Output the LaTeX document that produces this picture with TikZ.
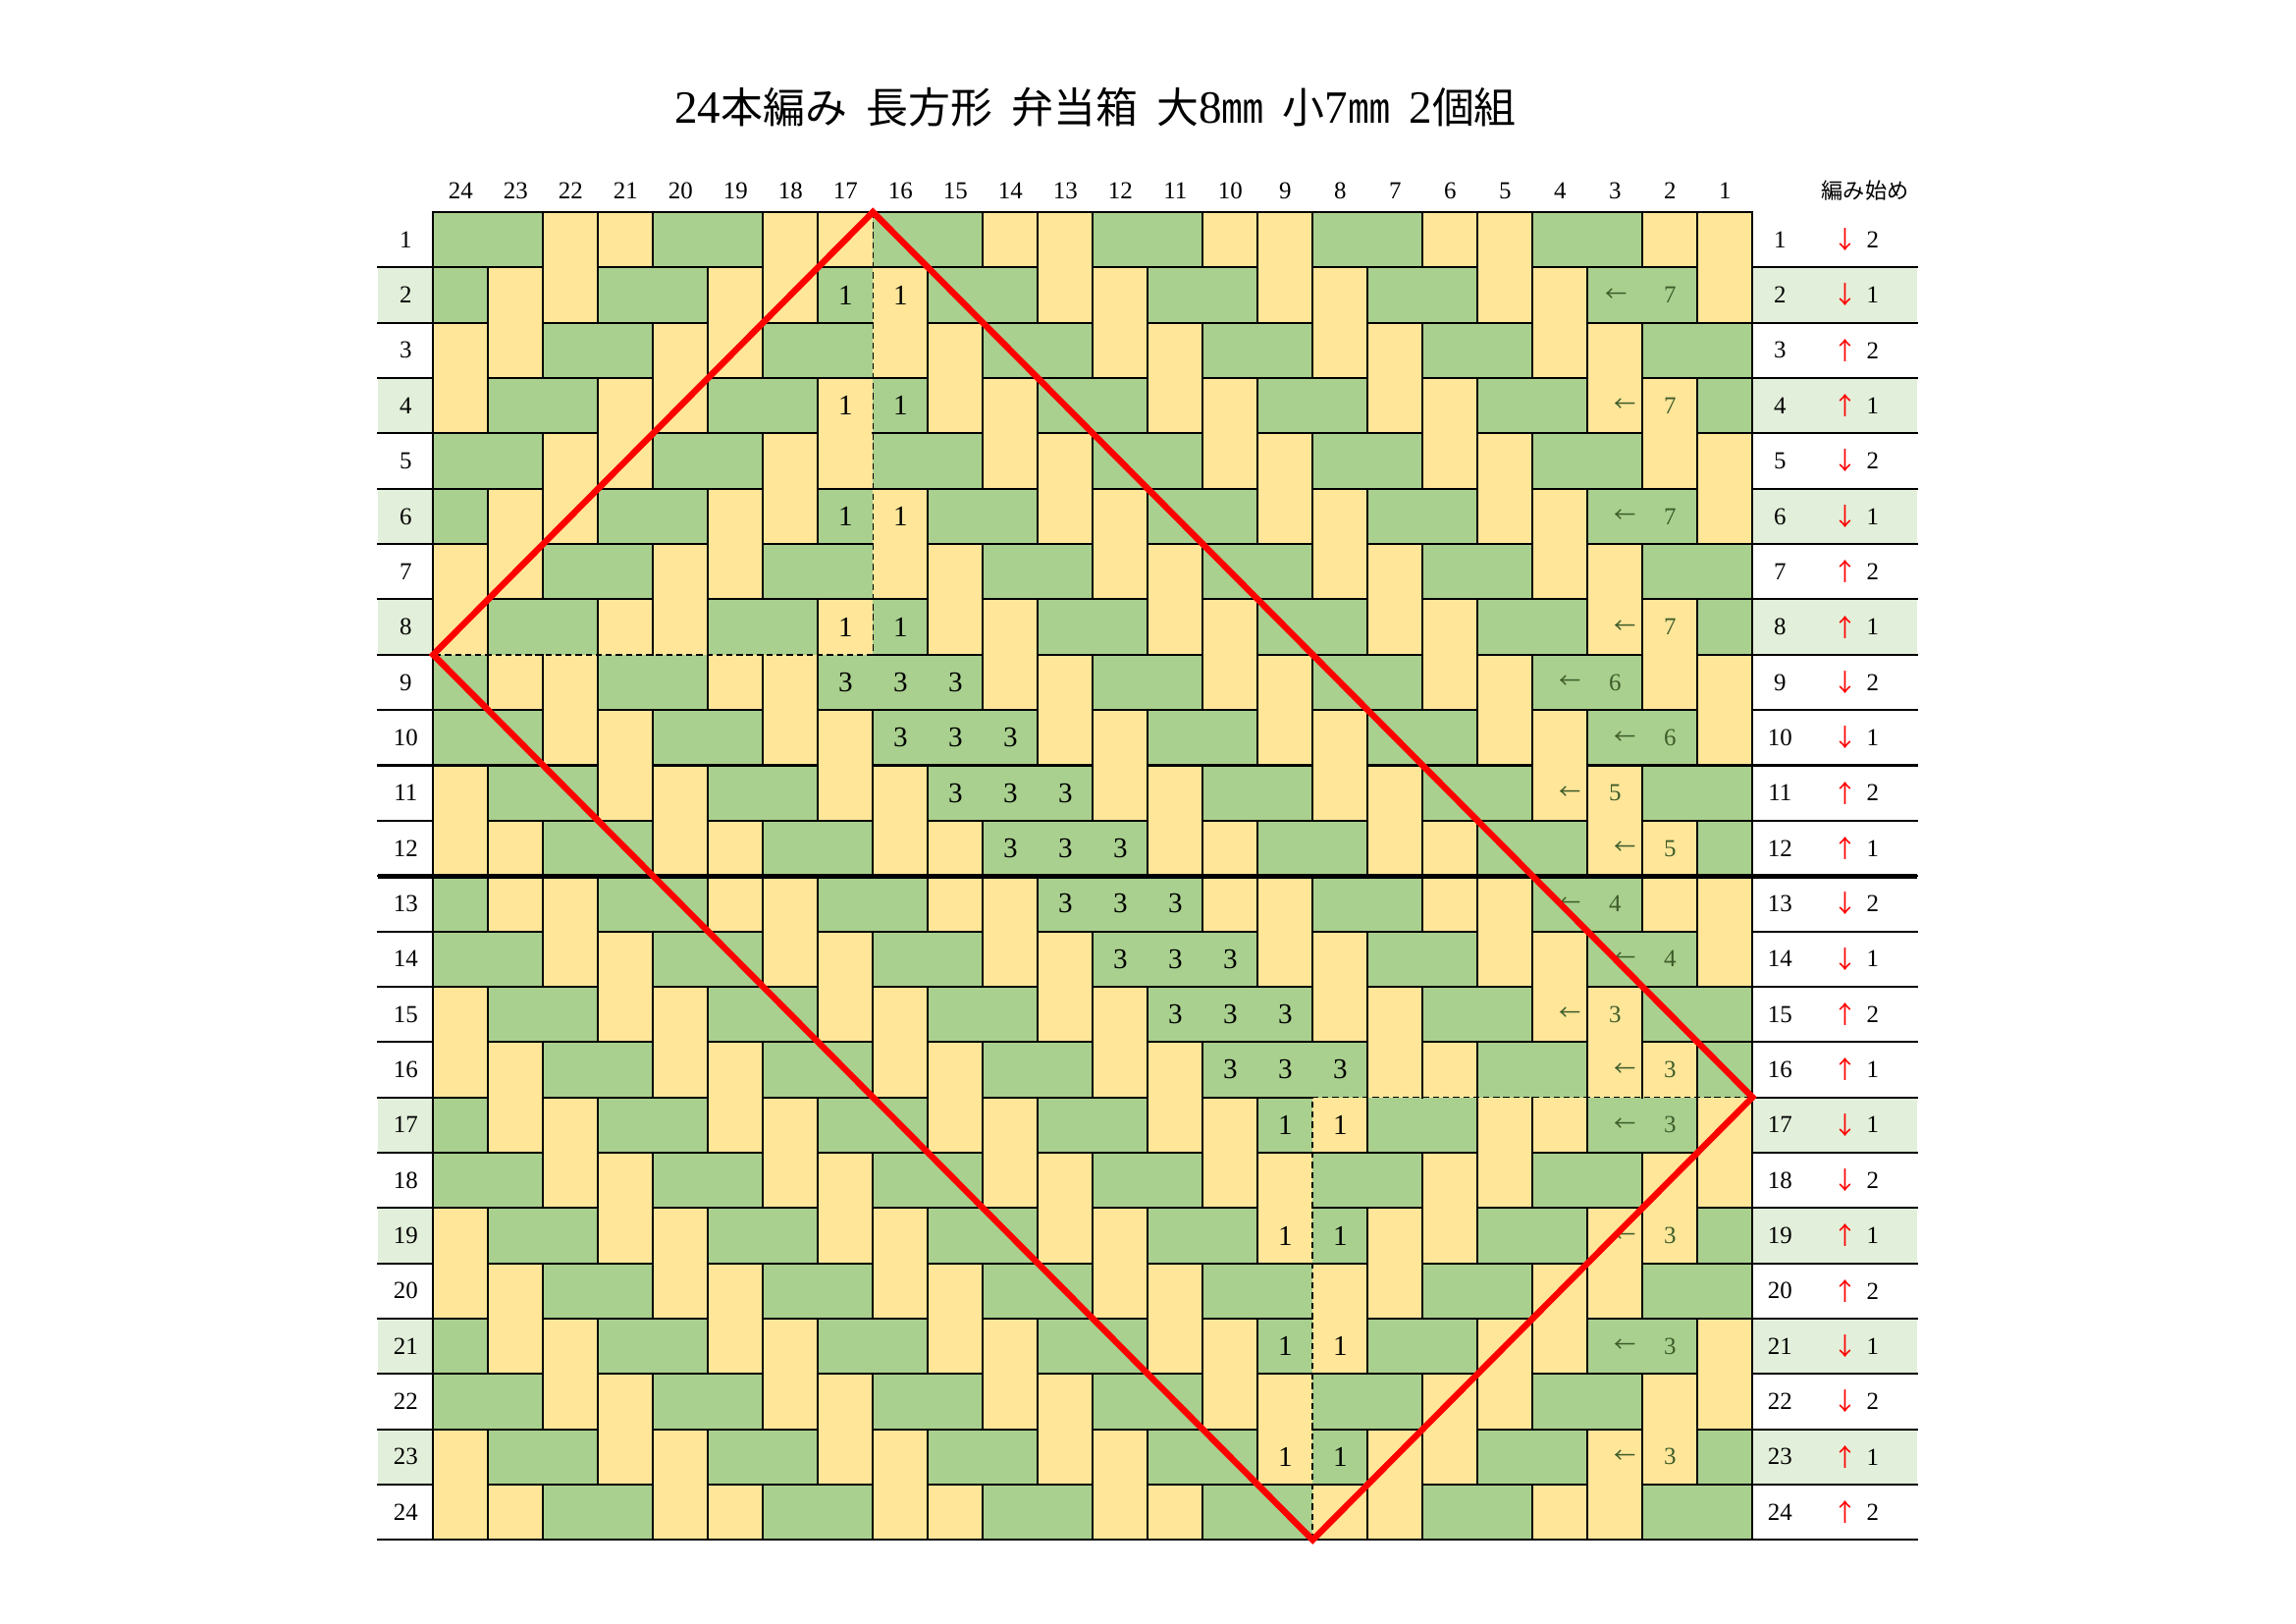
\documentclass[tikz,border=0pt]{standalone}
\usepackage{fontspec}
\setmainfont{Liberation Serif}
\newfontfamily\jp{Noto Sans CJK JP}
\definecolor{wg}{HTML}{A9D08E}
\definecolor{wy}{HTML}{FFE699}
\definecolor{lsh}{HTML}{E2EFDA}
\definecolor{mk}{HTML}{3D5C2A}
\definecolor{rd}{HTML}{FF0000}
\newcommand\wvtest[3]{\def\wv{0}\ifnum#1=#2 \def\wv{1}\fi\ifnum#1=#3 \def\wv{1}\fi}
\newcommand\wvcol[2]{%
  \pgfmathtruncatemacro\wvA{mod(#1+#2,4)}%
  \pgfmathtruncatemacro\wvB{mod(#1-#2+40,4)}%
  \ifnum#2<9
    \ifnum#1<9 \wvtest{\wvA}{2}{3}\else\wvtest{\wvB}{0}{1}\fi
  \else
    \ifnum#2<17
      \ifnum#1<#2 \wvtest{\wvB}{3}{0}\else
        \ifnum#1>#2 \wvtest{\wvB}{0}{1}\else\def\wv{1}\fi
      \fi
    \else
      \ifnum#1<17 \wvtest{\wvB}{3}{0}\else\wvtest{\wvA}{3}{0}\fi
    \fi
  \fi}
\tikzset{
  gl/.style={line width=0.26mm, line cap=rect},
  thickl/.style={line width=0.6mm},
  dsh/.style={line width=0.2mm, dash pattern=on 0.8mm off 0.5mm},
  redl/.style={draw=rd, line width=0.82mm, line join=miter},
  hdr/.style={inner sep=0pt, font=\fontsize{9pt}{10pt}\selectfont},
  cnum/.style={inner sep=0pt, font=\fontsize{10.5pt}{12pt}\selectfont},
  mkt/.style={inner sep=0pt, text=mk, font=\fontsize{9pt}{10pt}\selectfont},
  tbl/.style={inner sep=0pt, font=\fontsize{9pt}{10pt}\selectfont},
}
\begin{document}
\begin{tikzpicture}[x=0.126977mm,y=-0.126977mm]
\useasboundingbox (0,0) rectangle (2339,1654);
\node[inner sep=0pt, font=\fontsize{15.5pt}{18pt}\selectfont] (title) at (1116,109)
  {{\fontsize{17pt}{18pt}\selectfont 24}{\jp 本編み}\hspace{.45em}{\jp 長方形}\hspace{.45em}{\jp 弁当箱}\hspace{.45em}{\jp 大}{\fontsize{17pt}{18pt}\selectfont 8}{\jp ㎜}\hspace{.45em}{\jp 小}{\fontsize{17pt}{18pt}\selectfont 7}{\jp ㎜}\hspace{.45em}{\fontsize{17pt}{18pt}\selectfont 2}{\jp 個組}};
\begin{scope}[shift={(441.3,216)},x=7.1107mm,y=-7.1552mm]
% weave colours
\foreach \r in {1,...,24}{\foreach \c in {1,...,24}{%
  \wvcol{\c}{\r}\expandafter\xdef\csname wvx\c x\r\endcsname{\wv}}}
% label shading
\foreach \r in {2,4,6,8,17,19,21,23}{
  \fill[lsh] (-1,\r-1) rectangle (0,\r);
  \fill[lsh] (24,\r-1) rectangle (27,\r);}
% cells
\foreach \r in {1,...,24}{\foreach \c in {1,...,24}{%
  \def\cc{wy}\ifnum\csname wvx\c x\r\endcsname=1 \def\cc{wg}\fi
  \fill[\cc] (\c-1,\r-1) rectangle (\c,\r);}}
% vertical edges
\foreach \r in {1,...,24}{\foreach \c in {1,...,23}{%
  \pgfmathtruncatemacro\cn{\c+1}%
  \def\wvskip{0}%
  \ifnum\csname wvx\c x\r\endcsname=1 \ifnum\csname wvx\cn x\r\endcsname=1 \def\wvskip{1}\fi\fi
  \ifnum\c=8 \ifnum\r<9 \def\wvskip{1}\fi\fi
  \ifnum\c=16 \ifnum\r>16 \def\wvskip{1}\fi\fi
  \ifnum\wvskip=0 \draw[gl] (\c,\r-1) -- (\c,\r);\fi}}
% horizontal edges
\foreach \r in {1,...,23}{\foreach \c in {1,...,24}{%
  \pgfmathtruncatemacro\rn{\r+1}%
  \def\wvskip{0}%
  \ifnum\csname wvx\c x\r\endcsname=0 \ifnum\csname wvx\c x\rn\endcsname=0 \def\wvskip{1}\fi\fi
  \ifnum\r=8 \ifnum\c<9 \def\wvskip{1}\fi\fi
  \ifnum\r=16 \ifnum\c>16 \def\wvskip{1}\fi\fi
  \ifnum\wvskip=0 \draw[gl] (\c-1,\r) -- (\c,\r);\fi}}
\draw[gl] (0,0) rectangle (24,24);
% label lines
\foreach \j in {1,...,24}{
  \draw[gl] (-1,\j) -- (0,\j);
  \draw[gl] (24,\j) -- (27,\j);}
\draw[thickl] (-1,12) -- (27,12);
% dashed guides
\coordinate (tv) at (8,0);
\coordinate (lv) at (0,8);
\coordinate (bv) at (16,24);
\coordinate (rv) at (24,16);
\coordinate (ic1) at (8,8);
\coordinate (ic2) at (16,16);
\draw[dsh] (tv) -- (ic1) -- (lv);
\draw[dsh] (bv) -- (ic2) -- (rv);
% headers
\foreach \c in {1,...,24}{
  \pgfmathtruncatemacro\lab{25-\c}
  \node[hdr] (h\c) at (\c-0.5,-0.39) {\lab};}
\node[inner sep=0pt, font=\jp\fontsize{8pt}{9pt}\selectfont] (start) at (26.05,-0.39) {編み始め};
% left labels
\foreach \r in {1,...,24}{
  \node[hdr] (l\r) at (-0.5,\r-0.5) {\r};}
% right table
\foreach \r/\a/\n in {1/1/2,2/1/1,3/0/2,4/0/1,5/1/2,6/1/1,7/0/2,8/0/1,9/1/2,10/1/1,11/0/2,12/0/1,13/1/2,14/1/1,15/0/2,16/0/1,17/1/1,18/1/2,19/0/1,20/0/2,21/1/1,22/1/2,23/0/1,24/0/2}{
  \node[tbl] (rn\r) at (24.5,\r-0.5) {\r};
  \node[tbl, text=rd, font=\jp\fontsize{9pt}{10pt}\selectfont] (ra\r) at (25.69,\r-0.5) {\ifnum\a=1 ↓\else ↑\fi};
  \node[tbl] (rc\r) at (26.19,\r-0.5) {\n};}
% "1" markers
\foreach \r in {2,4,6,8}{
  \node[cnum] (oa\r) at (7.5,\r-0.5) {1};
  \node[cnum] (ob\r) at (8.5,\r-0.5) {1};}
\foreach \r in {17,19,21,23}{
  \node[cnum] (oa\r) at (15.5,\r-0.5) {1};
  \node[cnum] (ob\r) at (16.5,\r-0.5) {1};}
% "3" markers
\foreach \r in {9,...,16}{\foreach \d in {-1,0,1}{
  \node[cnum] (t\r x\d) at (\r+\d-0.5,\r-0.5) {3};}}
% arrows with counts
\foreach \r/\ca/\cn/\t in {2/22/23/7,4/22/23/7,6/22/23/7,8/22/23/7,9/21/22/6,10/22/23/6,11/21/22/5,12/22/23/5,13/21/22/4,14/22/23/4,15/21/22/3,16/22/23/3,17/22/23/3,19/22/23/3,21/22/23/3,23/22/23/3}{
  \pgfmathsetmacro\ax{\ca-0.5+(\r==2 ? 0.02 : 0.18)}
  \node[mkt, font=\jp\fontsize{8pt}{9pt}\selectfont] (ma\r) at (\ax,\r-0.5) {←};
  \node[mkt] (mn\r) at (\cn-0.5,\r-0.5) {\t};}
% red outline
\draw[redl] (tv) -- (lv) -- (bv) -- (rv) -- cycle;
\end{scope}
\end{tikzpicture}
\end{document}
